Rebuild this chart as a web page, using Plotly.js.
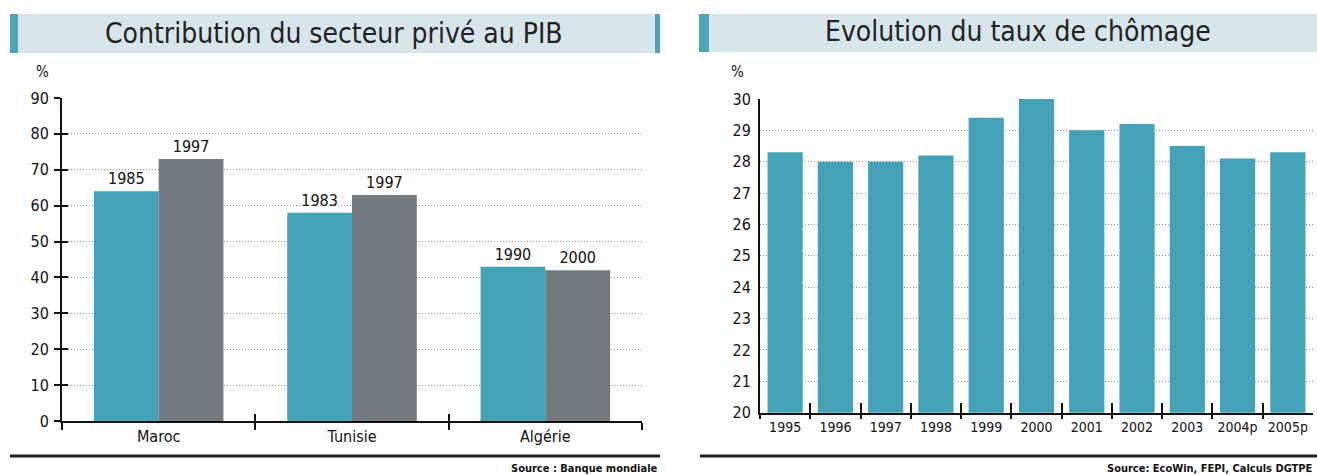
<!DOCTYPE html>
<html>
<head>
<meta charset="utf-8">
<script src="https://cdn.plot.ly/plotly-3.0.1.min.js"></script>
<style>html,body{margin:0;padding:0;background:#fff;}#chart{width:1317px;height:475px;}</style>
</head>
<body>
<div id="chart"></div>
<script>
// ---- Data ----
const countries = ['Maroc', 'Tunisie', 'Algérie'];
const firstYears = ['1985', '1983', '1990'];
const firstValues = [64, 58, 43];
const secondYears = ['1997', '1997', '2000'];
const secondValues = [73, 63, 42];

const years = ['1995', '1996', '1997', '1998', '1999', '2000', '2001', '2002', '2003', '2004p', '2005p'];
const unemployment = [28.3, 28.0, 28.0, 28.2, 29.4, 30.0, 29.0, 29.2, 28.5, 28.1, 28.3];

const leftTitle = 'Contribution du secteur privé au PIB';
const rightTitle = 'Evolution du taux de chômage';
const leftSource = 'Source : Banque mondiale';
const rightSource = 'Source: EcoWin, FEPI, Calculs DGTPE';

// ---- Styling ----
const W = 1317, H = 475;
const px = x => x / W;
const py = y => 1 - y / H;
const FONT = "'Liberation Sans Narrow', 'DejaVu Sans Condensed', 'Arial Narrow', sans-serif";
const TEAL = '#44a2b6';
const GREY = '#717a7e';

const traces = [
  {type: 'bar', x: countries, y: firstValues, text: firstYears, textposition: 'outside',
   textfont: {family: FONT, size: 16, color: '#111'}, cliponaxis: false,
   marker: {color: TEAL, line: {width: 0}}, xaxis: 'x', yaxis: 'y'},
  {type: 'bar', x: countries, y: secondValues, text: secondYears, textposition: 'outside',
   textfont: {family: FONT, size: 16, color: '#111'}, cliponaxis: false,
   marker: {color: GREY, line: {width: 0}}, xaxis: 'x', yaxis: 'y'},
  {type: 'bar', x: years, y: unemployment, width: 0.7,
   marker: {color: TEAL, line: {width: 0}}, xaxis: 'x2', yaxis: 'y2'},
  // empty helper traces so the overlay tick axes are drawn
  {type: 'scatter', x: [], y: [], xaxis: 'x3', yaxis: 'y', showlegend: false},
  {type: 'scatter', x: [], y: [], xaxis: 'x', yaxis: 'y3', showlegend: false},
  {type: 'scatter', x: [], y: [], xaxis: 'x4', yaxis: 'y2', showlegend: false}
];

const axisLine = {showline: true, linecolor: '#111', linewidth: 2, tickcolor: '#111', tickwidth: 2, zeroline: false};
const tickFont = {family: FONT, size: 16, color: '#111'};
const GRID = {showgrid: true, gridcolor: '#888', griddash: '1px,2px', gridwidth: 1};

const layout = {
  width: W, height: H,
  margin: {l: 0, r: 0, t: 0, b: 0},
  paper_bgcolor: '#fff', plot_bgcolor: 'rgba(0,0,0,0)',
  showlegend: false,
  barmode: 'group', bargap: 0.33, bargroupgap: 0,
  font: {family: FONT, color: '#111'},
  xaxis: Object.assign({}, axisLine, {domain: [px(62), px(642)], anchor: 'y', type: 'category',
    ticks: 'outside', tickson: 'boundaries', ticklen: 7, tickfont: tickFont, showgrid: false, tickangle: 0}),
  yaxis: Object.assign({}, axisLine, GRID, {domain: [py(421), py(98)], anchor: 'x', range: [0, 90], dtick: 10,
    ticks: 'outside', ticklen: 6, tickfont: tickFont, ticklabelstandoff: 2}),
  xaxis3: {overlaying: 'x', anchor: 'y', type: 'linear', range: [-0.5, countries.length - 0.5],
    tickvals: countries.map((_, i) => i + 0.5), ticks: 'inside', ticklen: 7, tickwidth: 2, tickcolor: '#111',
    showticklabels: false, showgrid: false, zeroline: false, showline: false},
  yaxis3: {overlaying: 'y', anchor: 'x', range: [0, 90], dtick: 10, ticks: 'inside', ticklen: 6,
    tickwidth: 2, tickcolor: '#111', showticklabels: false, showgrid: false, zeroline: false, showline: false},
  xaxis2: Object.assign({}, axisLine, {domain: [px(760), px(1313)], anchor: 'y2', type: 'category',
    ticks: 'outside', tickson: 'boundaries', ticklen: 4, tickangle: 0,
    tickfont: {family: FONT, size: 14, color: '#111'}, showgrid: false}),
  yaxis2: Object.assign({}, axisLine, GRID, {domain: [py(412.7), py(99)], anchor: 'x2', range: [20, 30], dtick: 1,
    ticks: '', tickfont: tickFont, ticklabelstandoff: 4}),
  xaxis4: {overlaying: 'x2', anchor: 'y2', type: 'linear', range: [-0.5, years.length - 0.5],
    tickvals: years.map((_, i) => i + 0.5), ticks: 'inside', ticklen: 10, tickwidth: 2, tickcolor: '#111',
    showticklabels: false, showgrid: false, zeroline: false, showline: false},
  shapes: [
    // title banners
    {type: 'rect', xref: 'paper', yref: 'paper', x0: px(10), x1: px(660), y0: py(53), y1: py(14),
     fillcolor: '#d8e6ec', line: {width: 0}, layer: 'below'},
    {type: 'rect', xref: 'paper', yref: 'paper', x0: px(10), x1: px(18), y0: py(53), y1: py(14),
     fillcolor: '#4fa3b6', line: {width: 0}},
    {type: 'rect', xref: 'paper', yref: 'paper', x0: px(655), x1: px(660), y0: py(53), y1: py(14),
     fillcolor: '#4fa3b6', line: {width: 0}},
    {type: 'rect', xref: 'paper', yref: 'paper', x0: px(699), x1: px(1317), y0: py(52), y1: py(14),
     fillcolor: '#d8e6ec', line: {width: 0}, layer: 'below'},
    {type: 'rect', xref: 'paper', yref: 'paper', x0: px(699), x1: px(709), y0: py(52), y1: py(14),
     fillcolor: '#4fa3b6', line: {width: 0}},
    // footer rules
    {type: 'line', xref: 'paper', yref: 'paper', x0: px(10), x1: px(660), y0: py(456), y1: py(456),
     line: {color: '#222', width: 3}},
    {type: 'line', xref: 'paper', yref: 'paper', x0: px(700), x1: px(1317), y0: py(456), y1: py(456),
     line: {color: '#222', width: 3}}
  ],
  annotations: [
    {text: leftTitle, xref: 'paper', yref: 'paper', x: px(334), y: py(33), xanchor: 'center', yanchor: 'middle',
     showarrow: false, font: {family: FONT, size: 28, color: '#222'}},
    {text: rightTitle, xref: 'paper', yref: 'paper', x: px(1018), y: py(32), xanchor: 'center', yanchor: 'middle',
     showarrow: false, font: {family: FONT, size: 28, color: '#222'}},
    {text: '%', xref: 'paper', yref: 'paper', x: px(42), y: py(72), xanchor: 'center', yanchor: 'middle',
     showarrow: false, font: {family: FONT, size: 15, color: '#111'}},
    {text: '%', xref: 'paper', yref: 'paper', x: px(737), y: py(72), xanchor: 'center', yanchor: 'middle',
     showarrow: false, font: {family: FONT, size: 15, color: '#111'}},
    {text: '<b>' + leftSource + '</b>', xref: 'paper', yref: 'paper', x: px(660), y: py(468), xanchor: 'right', yanchor: 'middle',
     showarrow: false, font: {family: FONT, size: 11, color: '#111'}},
    {text: '<b>' + rightSource + '</b>', xref: 'paper', yref: 'paper', x: px(1315), y: py(468), xanchor: 'right', yanchor: 'middle',
     showarrow: false, font: {family: FONT, size: 11, color: '#111'}}
  ]
};

Plotly.newPlot('chart', traces, layout, {displayModeBar: false, staticPlot: true});
</script>
</body>
</html>
